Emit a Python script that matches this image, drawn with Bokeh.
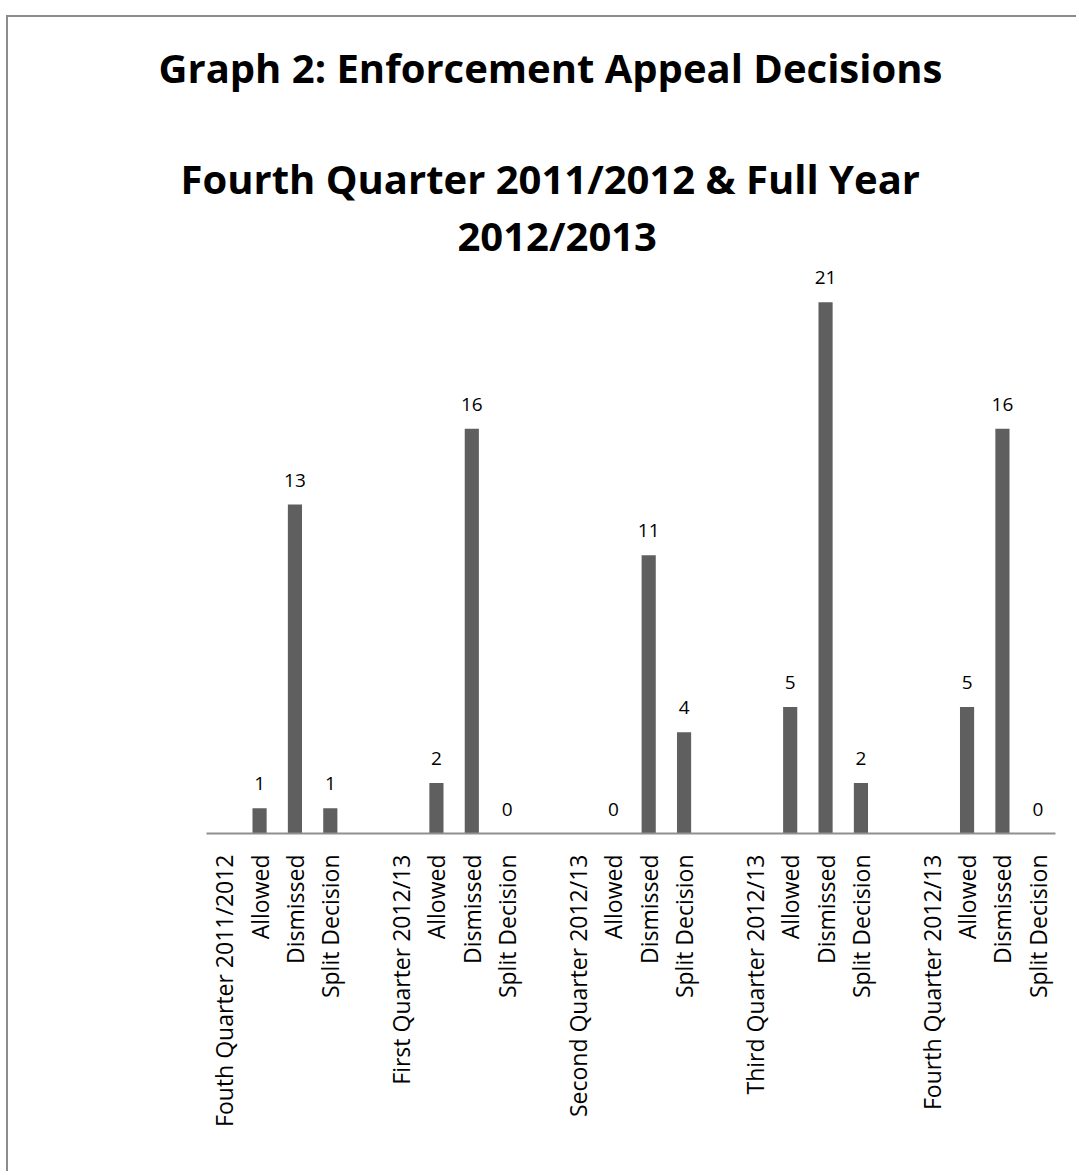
import math
from bokeh.plotting import figure
from bokeh.models import ColumnDataSource, LabelSet, Title, FixedTicker, Range1d
from bokeh.core.properties import value
from bokeh.embed import file_html
from bokeh.resources import INLINE

# ---- data -------------------------------------------------------------
groups = ["Fouth Quarter 2011/2012", "First Quarter 2012/13", "Second Quarter 2012/13",
          "Third Quarter 2012/13", "Fourth Quarter 2012/13"]
decisions = ["Allowed", "Dismissed", "Split Decision"]
allowed = [1, 2, 0, 5, 5]
dismissed = [13, 16, 11, 21, 16]
split_decision = [1, 0, 4, 2, 0]

title_main = "Graph 2: Enforcement Appeal Decisions"
title_sub1 = "Fourth Quarter 2011/2012 & Full Year"
title_sub2 = "2012/2013"

# ---- build category slots (blank spacer, group label, 3 decisions) -----
tick_labels = []
bar_x, bar_top, bar_text = [], [], []
for gi, g in enumerate(groups):
    if gi > 0:
        tick_labels.append("")
    tick_labels.append(g)
    for name, series in zip(decisions, (allowed, dismissed, split_decision)):
        bar_x.append(len(tick_labels))
        bar_top.append(series[gi])
        bar_text.append(str(series[gi]))
        tick_labels.append(name)

src = ColumnDataSource(dict(x=bar_x, top=bar_top, label=bar_text))
n = len(tick_labels)

FONT = "Open Sans"

p = figure(width=1070, height=1156, output_backend="svg", toolbar_location=None,
           title_location=None,
           x_range=Range1d(-0.5, n - 0.5), y_range=Range1d(0, 22.57),
           min_border_left=198, min_border_right=23, min_border_top=245, min_border_bottom=340)
p.styles = {"border-top": "2px solid #8c8c8c", "border-left": "2px solid #8c8c8c",
            "margin-top": "15px", "margin-left": "6px"}

p.vbar(x="x", top="top", width=0.4, source=src, fill_color="#5f5f5f", line_color=None)

labels = LabelSet(x="x", y="top", text="label", source=src, text_align="center",
                  text_baseline="alphabetic", y_offset=18,
                  text_font=value(FONT), text_font_size="19px", text_color="black")
p.add_layout(labels)

p.yaxis.visible = False
p.xgrid.visible = False
p.ygrid.visible = False
p.outline_line_color = None

ax = p.xaxis[0]
ax.ticker = FixedTicker(ticks=list(range(n)))
ax.major_label_overrides = {i: lab for i, lab in enumerate(tick_labels)}
ax.major_label_orientation = math.pi / 2
ax.major_tick_line_color = None
ax.minor_tick_line_color = None
ax.axis_line_color = "#8f8f8f"
ax.axis_line_width = 2
ax.major_label_text_font = FONT
ax.major_label_text_font_size = "23px"
ax.major_label_text_color = "black"
ax.major_label_standoff = 15

# titles stack outward from the plot frame
for txt, off, size in ((title_sub2, 251, "40px"), (title_sub1, -26, "40px"),
                       (" ", 0, "38px"), (title_main, -48, "40px")):
    p.add_layout(Title(text=txt, align="left", offset=off, text_font=FONT,
                       text_font_size=size, text_font_style="bold",
                       text_color="black", standoff=0), "above")

open("out.html", "w").write(file_html(p, INLINE))
